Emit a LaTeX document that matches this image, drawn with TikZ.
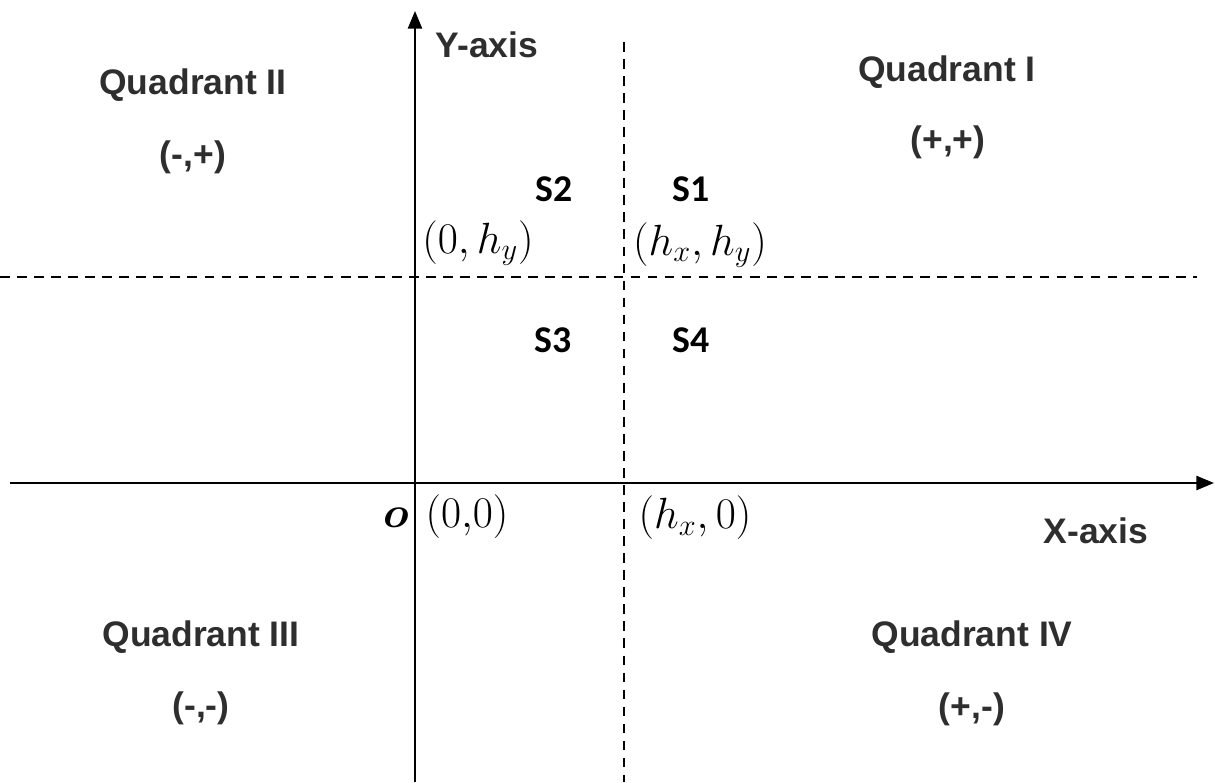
\documentclass[tikz,border=0pt]{standalone}
\usepackage{fontspec}
\usepackage{amsmath}
\usepackage{bm}
\newfontfamily\arialb[Scale=1.0]{Liberation Sans}
\newfontfamily\calib{Carlito}
\usetikzlibrary{arrows.meta}
\definecolor{txtgray}{HTML}{2E2E2E}
\tikzset{
  axis/.style={line width=1.2pt, -{Triangle[length=10pt,width=8pt]}},
  guide/.style={line width=1.1pt, dash pattern=on 5.5pt off 4.2pt},
  quad/.style={font=\arialb\bfseries\fontsize{20.2}{24}\selectfont, text=txtgray, inner sep=0pt, anchor=center},
  slab/.style={font=\calib\bfseries\fontsize{21.5}{25}\selectfont, text=black, inner sep=0pt, anchor=center},
  mlab/.style={font=\fontsize{23.5}{28}\selectfont, text=black, inner sep=0pt, anchor=center},
}
\begin{document}
\begin{tikzpicture}[x=0.02cm,y=-0.02cm]
\useasboundingbox (0,0) rectangle (1215,782);
% guides
\coordinate (vgt) at (624,42);
\coordinate (vgb) at (624,782);
\coordinate (hgl) at (0,277);
\coordinate (hgr) at (1197,277);
\draw[guide] (vgt) -- (vgb);
\draw[guide] (hgl) -- (hgr);
% axes
\coordinate (yb) at (415,782);
\coordinate (yt) at (415,11);
\coordinate (xl) at (10,483);
\coordinate (xr) at (1214,483);
\draw[axis] (yb) -- (yt);
\draw[axis] (xl) -- (xr);
% labels
\node[quad] (ylab) at (487,45) {Y-axis};
\node[quad] (xlab) at (1096,531) {X-axis};
\node[quad] (q2) at (193,85) {Quadrant II};
\node[quad] (q2s) at (193,157) {(-,+)};
\node[quad] (q1) at (947,72) {Quadrant I};
\node[quad] (q1s) at (948,142) {(+,+)};
\node[quad] (q3) at (201,637) {Quadrant III};
\node[quad] (q3s) at (201,708) {(-,-)};
\node[quad] (q4) at (972,637) {Quadrant IV};
\node[quad] (q4s) at (972,709) {(+,-)};
\node[slab] (s2) at (554,189) {S2};
\node[slab] (s1) at (691,189) {S1};
\node[slab] (s3) at (553,340) {S3};
\node[slab] (s4) at (691,340) {S4};
\node[mlab] (p0h) at (478,243) {$(0,h_y)$};
\node[mlab] (phh) at (700,245) {$(h_x,h_y)$};
\node[mlab] (p00) at (467,517) {$(0{,}0)$};
\node[mlab] (ph0) at (695,518) {$(h_x,0)$};
\node[mlab] (orig) at (396,518) {$\bm{o}$};
\end{tikzpicture}
\end{document}
